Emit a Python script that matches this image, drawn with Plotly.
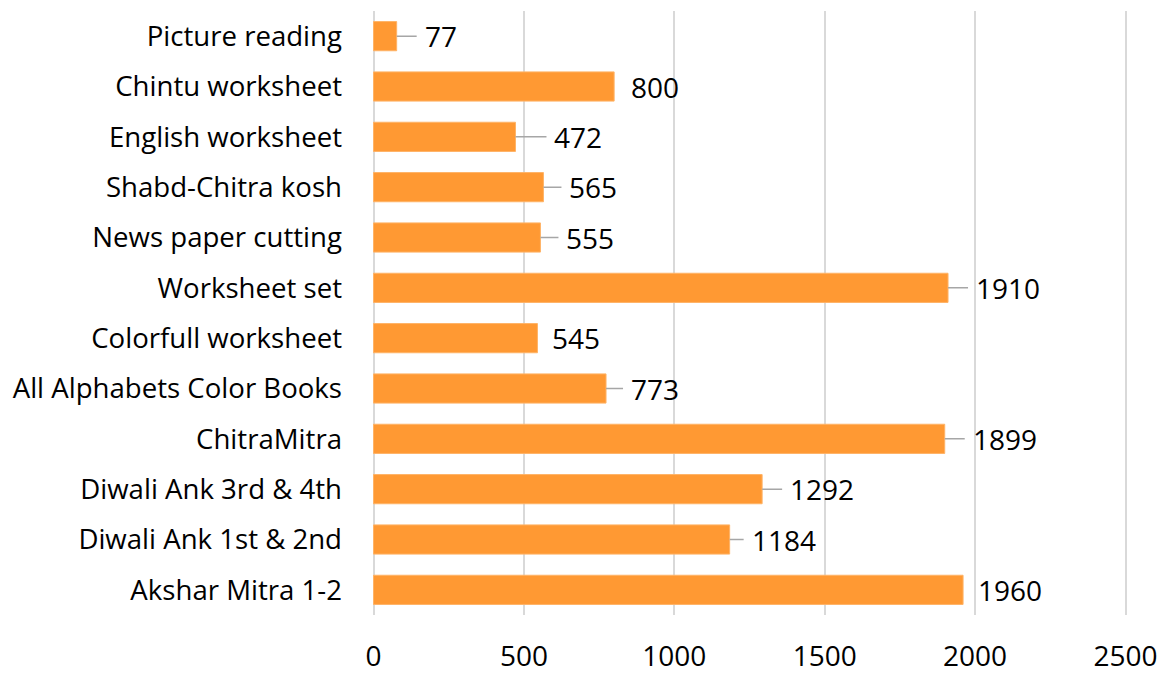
import plotly.graph_objects as go

# resources and how many were distributed (top to bottom)
resources = ['Picture reading', 'Chintu worksheet', 'English worksheet',
             'Shabd-Chitra kosh', 'News paper cutting', 'Worksheet set',
             'Colorfull worksheet', 'All Alphabets Color Books', 'ChitraMitra',
             'Diwali Ank 3rd & 4th', 'Diwali Ank 1st & 2nd', 'Akshar Mitra 1-2']
counts = [77, 800, 472, 565, 555, 1910, 545, 773, 1899, 1292, 1184, 1960]

x_ticks = [0, 500, 1000, 1500, 2000, 2500]

# label placement in pixels past the bar end, and whether a leader line is drawn
label_gap = [27, 16, 38, 25, 25, 27, 14, 24, 27, 27, 21, 14]
leader = [True, False, True, True, True, True, False, True, True, True, True, False]

FONT = 'Open Sans'
SIZE = 28

bar = go.Bar(x=counts, y=resources, orientation='h',
             marker=dict(color='#FF9933', line=dict(color='#FFB366', width=1)),
             hoverinfo='x+y')

annotations = []
for name, val, gap, has_line in zip(resources, counts, label_gap, leader):
    annotations.append(dict(
        x=val, y=name, xref='x', yref='y',
        text=str(val), showarrow=True, ax=gap, ay=0,
        xanchor='left', yanchor='middle',
        arrowhead=0, arrowwidth=1.5,
        arrowcolor='#A6A6A6' if has_line else 'rgba(0,0,0,0)',
        startstandoff=7, standoff=0, borderpad=0,
        font=dict(family=FONT, size=SIZE, color='#000000'),
    ))

# the page body has an 8px margin, so the figure is drawn 8px smaller
layout = go.Layout(
    width=1157, height=665,
    margin=dict(l=364, r=38, t=3, b=58),
    plot_bgcolor='white', paper_bgcolor='white',
    bargap=0.42,
    showlegend=False,
    font=dict(family=FONT, size=SIZE, color='#000000'),
    # some slack on both ends, plotly drops gridlines sitting on the edge
    xaxis=dict(range=[-5, 2505], tickvals=x_ticks, showgrid=True,
               gridcolor='#D9D9D9', gridwidth=1.5, zeroline=False,
               showline=False, ticks='', ticklabelstandoff=22,
               automargin=False, ticklabeloverflow='allow',
               tickfont=dict(family=FONT, size=SIZE, color='#000000')),
    yaxis=dict(autorange='reversed', showgrid=False, zeroline=False,
               showline=False, ticks='', ticklabelstandoff=29,
               automargin=False,
               tickfont=dict(family=FONT, size=27.6, color='#000000')),
    annotations=annotations,
)

fig = go.Figure(data=[bar], layout=layout)
fig.write_html('out.html')
